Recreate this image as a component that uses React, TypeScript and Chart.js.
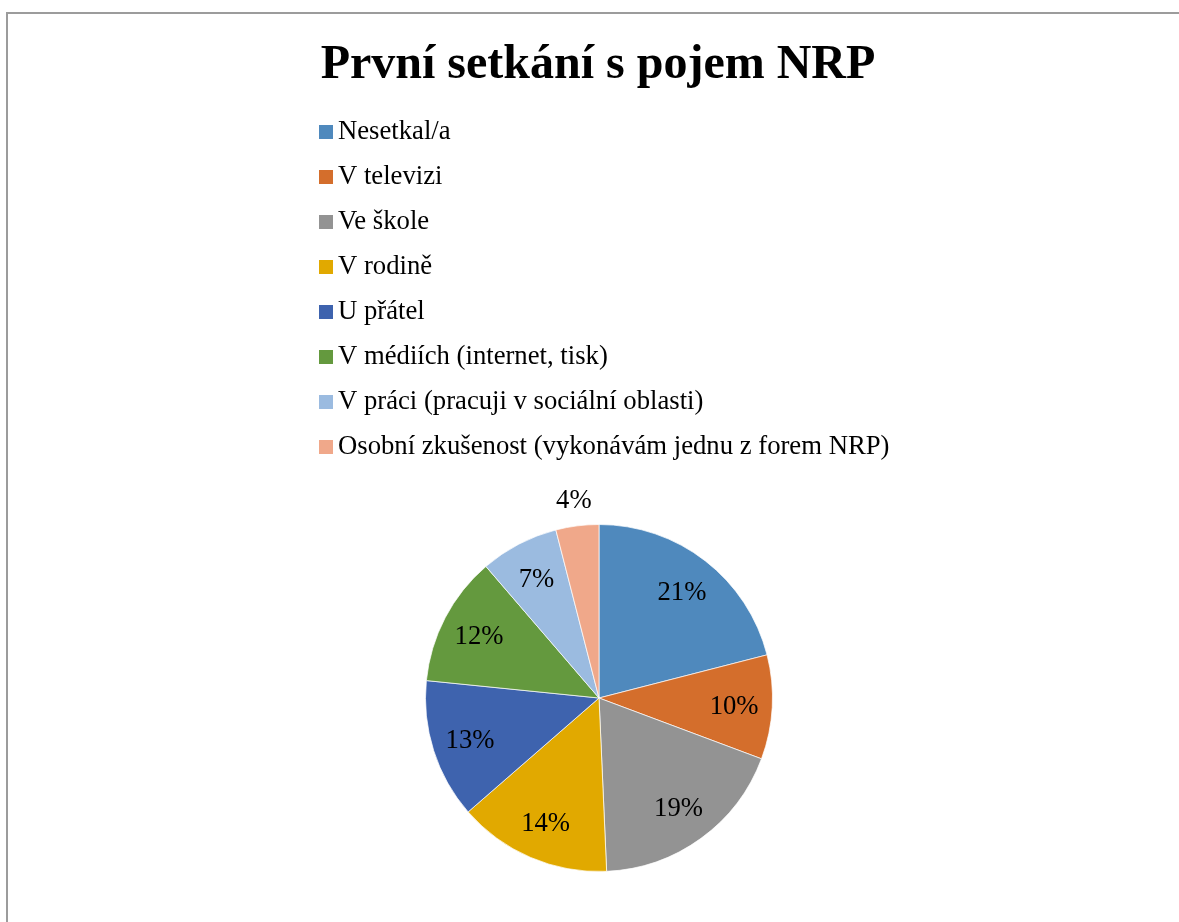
import React, { useEffect, useRef } from "react";
import { Chart, registerables } from "chart.js";

Chart.register(...registerables);

const TITLE = "První setkání s pojem NRP";
const categories = [
  "Nesetkal/a",
  "V televizi",
  "Ve škole",
  "V rodině",
  "U přátel",
  "V médiích (internet, tisk)",
  "V práci (pracuji v sociální oblasti)",
  "Osobní zkušenost (vykonávám jednu z forem NRP)",
];
// shares (%); labels show rounded values
const values = [21.0, 9.7, 18.6, 14.3, 13.0, 12.1, 7.3, 4.0];
const colors = [
  "#4F89BD",
  "#D46E2C",
  "#939393",
  "#E1A900",
  "#3E63AE",
  "#64993E",
  "#9BBBE0",
  "#F0A88A",
];

const FONT = "'Liberation Serif', 'Times New Roman', serif";

const decorPlugin = {
  id: "decor",
  beforeDraw(chart: any) {
    const ctx = chart.ctx;
    ctx.save();
    ctx.fillStyle = "#ffffff";
    ctx.fillRect(0, 0, chart.width, chart.height);
    // outer frame
    ctx.strokeStyle = "#9c9c9c";
    ctx.lineWidth = 2;
    ctx.beginPath();
    ctx.moveTo(7, chart.height + 5);
    ctx.lineTo(7, 13);
    ctx.lineTo(chart.width + 5, 13);
    ctx.stroke();
    // title
    ctx.fillStyle = "#000000";
    ctx.font = `bold 48px ${FONT}`;
    ctx.textAlign = "center";
    ctx.textBaseline = "alphabetic";
    ctx.fillText(TITLE, 598, 78);
    // legend
    ctx.font = `26.7px ${FONT}`;
    ctx.textAlign = "left";
    const labels = chart.data.labels as string[];
    const bg = chart.data.datasets[0].backgroundColor as string[];
    labels.forEach((lab, i) => {
      const base = 139 + i * 45;
      ctx.fillStyle = bg[i];
      ctx.fillRect(319, base - 14, 14, 14);
      ctx.fillStyle = "#000000";
      ctx.fillText(lab, 338, base);
    });
    ctx.restore();
  },
  afterDatasetsDraw(chart: any) {
    const ctx = chart.ctx;
    const meta = chart.getDatasetMeta(0);
    const data = chart.data.datasets[0].data as number[];
    const total = data.reduce((a, b) => a + b, 0);
    ctx.save();
    ctx.font = `26.7px ${FONT}`;
    ctx.fillStyle = "#000000";
    ctx.textAlign = "center";
    ctx.textBaseline = "middle";
    meta.data.forEach((arc: any, i: number) => {
      const p = arc.getProps(["x", "y", "startAngle", "endAngle", "outerRadius"], true);
      const mid = (p.startAngle + p.endAngle) / 2;
      const pct = Math.round((data[i] / total) * 100);
      const r = pct >= 5 ? p.outerRadius * 0.78 : p.outerRadius + 27;
      const x = p.x + Math.cos(mid) * r;
      const y = p.y + Math.sin(mid) * r + 2;
      ctx.fillText(`${pct}%`, x, y);
    });
    ctx.restore();
  },
};

export default function App() {
  const ref = useRef<HTMLCanvasElement | null>(null);
  useEffect(() => {
    if (!ref.current) return;
    const chart = new Chart(ref.current, {
      type: "pie",
      data: {
        labels: categories,
        datasets: [
          {
            data: values,
            backgroundColor: colors,
            borderColor: "rgba(255,255,255,0.7)",
            borderWidth: 1,
            hoverOffset: 0,
            offset: 0,
          },
        ],
      },
      options: {
        responsive: false,
        animation: false,
        events: [],
        layout: { padding: { left: 425, right: 406, top: 523, bottom: 49 } },
        plugins: {
          legend: { display: false },
          title: { display: false },
          tooltip: { enabled: false },
        },
      },
      plugins: [decorPlugin],
    });
    return () => chart.destroy();
  }, []);
  return (
    <div style={{ position: "absolute", left: 0, top: 0, width: 1179, height: 922, overflow: "hidden" }}>
      <canvas ref={ref} width={1179} height={922} style={{ display: "block", width: 1179, height: 922 }} />
    </div>
  );
}
